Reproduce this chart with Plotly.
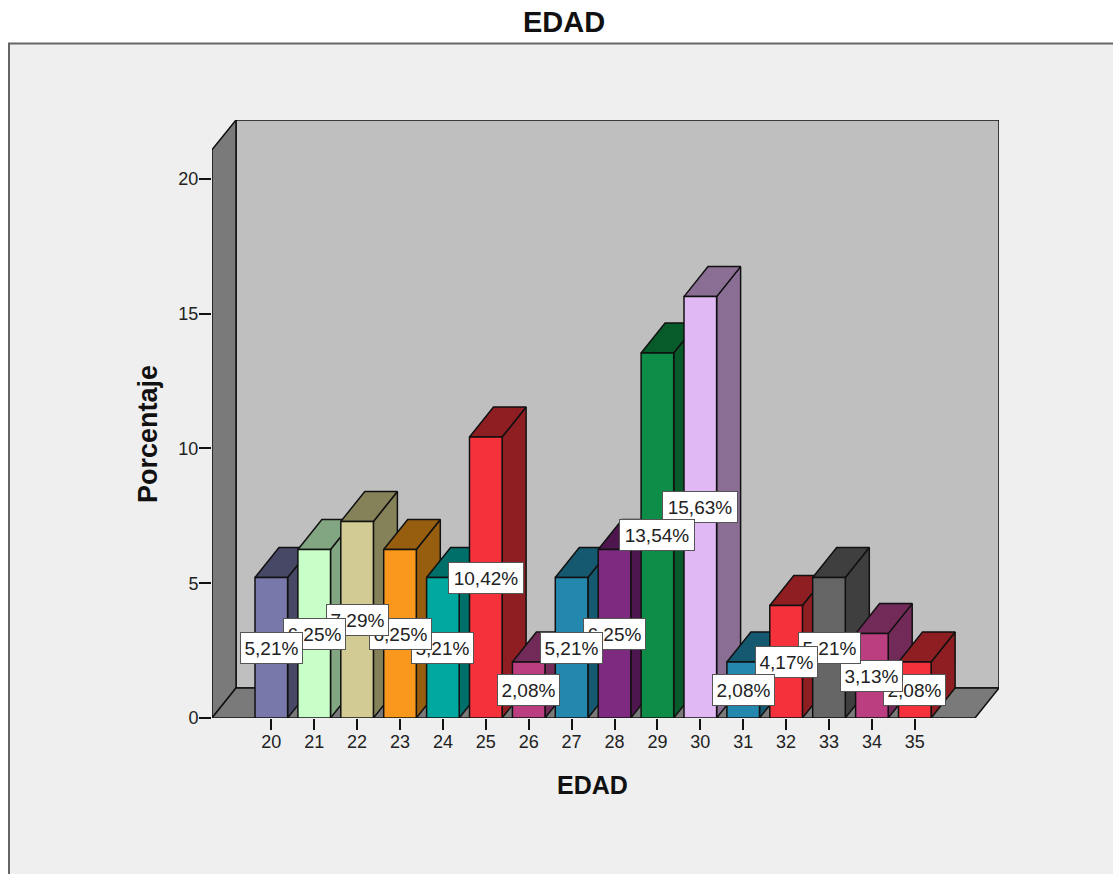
import plotly.graph_objects as go

edades = list(range(20, 36))
porcentajes = [5.21, 6.25, 7.29, 6.25, 5.21, 10.42, 2.08, 5.21, 6.25, 13.54, 15.63, 2.08, 4.17, 5.21, 3.13, 2.08]
etiquetas = ["5,21%", "6,25%", "7,29%", "6,25%", "5,21%", "10,42%", "2,08%", "5,21%", "6,25%", "13,54%", "15,63%", "2,08%", "4,17%", "5,21%", "3,13%", "2,08%"]
color_frente = ["#7878AB", "#C8FFC8", "#D2CB94", "#F9981D", "#00A8A0", "#F5323C", "#BA3E80", "#2487AD", "#7E2A80", "#0E8D48", "#E0B8F4", "#2487AD", "#F5323C", "#666666", "#BA3E80", "#F5323C"]
color_lado = ["#474766", "#82A582", "#858158", "#975E10", "#006E69", "#8E1E22", "#722A58", "#155970", "#4D164F", "#075A2A", "#8A6E94", "#155970", "#8E1E22", "#3F3F3F", "#722A58", "#8E1E22"]

W, H = 1113, 874
L, R, T, B = 212, 999, 120, 718
PX_X = 42.9
PX_Y = 26.96
X_RANGE = [20 + (L - 271.3) / PX_X, 20 + (R - 271.3) / PX_X]
Y_RANGE = [0, (B - T) / PX_Y]
DX = 24 / PX_X
DY = 30 / PX_Y
HALF = 0.38
INK = "#111111"
XL = X_RANGE[0]
YMAX = 20.0 + 29 / PX_Y


def poly(xs, ys, fill, lw=1.5):
    return go.Scatter(x=xs + xs[:1], y=ys + ys[:1], mode="lines", fill="toself", fillcolor=fill,
                      line=dict(color=INK, width=lw), hoverinfo="skip", showlegend=False, cliponaxis=False)


fig = go.Figure()
xb = XL + DX
xr = X_RANGE[1]
fig.add_trace(poly([xb, xr, xr, xb], [DY, DY, Y_RANGE[1], Y_RANGE[1]], "#BFBFBF"))
fig.add_trace(poly([XL, xb, xb, XL], [0, DY, Y_RANGE[1], YMAX], "#7A7A7A"))
fig.add_trace(poly([XL, xb, xr, xr - DX], [0, DY, DY, 0], "#7A7A7A"))

for e, v, cf, cl in zip(edades, porcentajes, color_frente, color_lado):
    a, b = e - HALF, e + HALF
    fig.add_trace(poly([b, b + DX, b + DX, b], [0, DY, v + DY, v], cl))
    fig.add_trace(poly([a, b, b + DX, a + DX], [v, v, v + DY, v + DY], cl))
    fig.add_trace(poly([a, b, b, a], [0, 0, v, v], cf))

anotaciones = []
# drawn right to left: in the reference the left label covers its right neighbour
for e, v, t in reversed(list(zip(edades, porcentajes, etiquetas))):
    ancho = 74 if len(t) > 5 else 61
    anotaciones.append(dict(x=e, y=v / 2, xref="x", yref="y", text=t, showarrow=False, width=ancho, height=30,
                            align="center", valign="middle", bgcolor="white", bordercolor="#555555", borderwidth=1,
                            borderpad=0, font=dict(family="Liberation Sans", size=19, color="#222222")))


def px_x(p):
    return (p - L) / (R - L)


def px_y(p):
    return (B - p) / (B - T)


anotaciones.append(dict(x=px_x(592), y=px_y(785), xref="paper", yref="paper", xanchor="center", yanchor="middle",
                        text="<b>EDAD</b>", showarrow=False,
                        font=dict(family="Liberation Sans", size=25, color="#111111")))
anotaciones.append(dict(x=px_x(148), y=px_y(434), xref="paper", yref="paper", xanchor="center", yanchor="middle",
                        text="<b>Porcentaje</b>", showarrow=False, textangle=-90,
                        font=dict(family="Liberation Sans", size=27, color="#111111")))

fig.update_layout(
    width=W, height=H, autosize=False,
    margin=dict(l=L, r=W - R, t=T, b=H - B, pad=0),
    paper_bgcolor="white", plot_bgcolor="rgba(0,0,0,0)",
    showlegend=False,
    title=dict(text="<b>EDAD</b>", x=564 / W, y=1 - 22 / H, xanchor="center", yanchor="middle",
               xref="container", yref="container",
               font=dict(family="Liberation Sans", size=29, color="#111111")),
    font=dict(family="Liberation Sans", size=18, color="#222222"),
    annotations=anotaciones,
    shapes=[dict(type="rect", xref="paper", yref="paper", layer="below",
                 x0=px_x(9), x1=px_x(1130), y0=px_y(890), y1=px_y(43.5),
                 fillcolor="#EFEFEF", line=dict(color="#666666", width=2))],
    xaxis=dict(range=X_RANGE, tickmode="array", tickvals=edades, ticktext=[str(e) for e in edades],
               ticks="outside", ticklen=11, tickwidth=1.5, tickcolor=INK, showgrid=False, zeroline=False, showline=False,
               tickfont=dict(family="Liberation Sans", size=18, color="#222222"), tickangle=0, ticklabelstandoff=-4),
    yaxis=dict(range=Y_RANGE, tickmode="array", tickvals=[0, 5, 10, 15, 20], ticktext=["0", "5", "10", "15", "20"],
               ticks="outside", ticklen=12, tickwidth=1.5, tickcolor=INK, showgrid=False, zeroline=False, showline=False,
               tickfont=dict(family="Liberation Sans", size=18, color="#222222"), ticklabelstandoff=-3),
)
fig.write_html("out.html", config={"displayModeBar": False}, post_script="document.body.style.margin='0';")
